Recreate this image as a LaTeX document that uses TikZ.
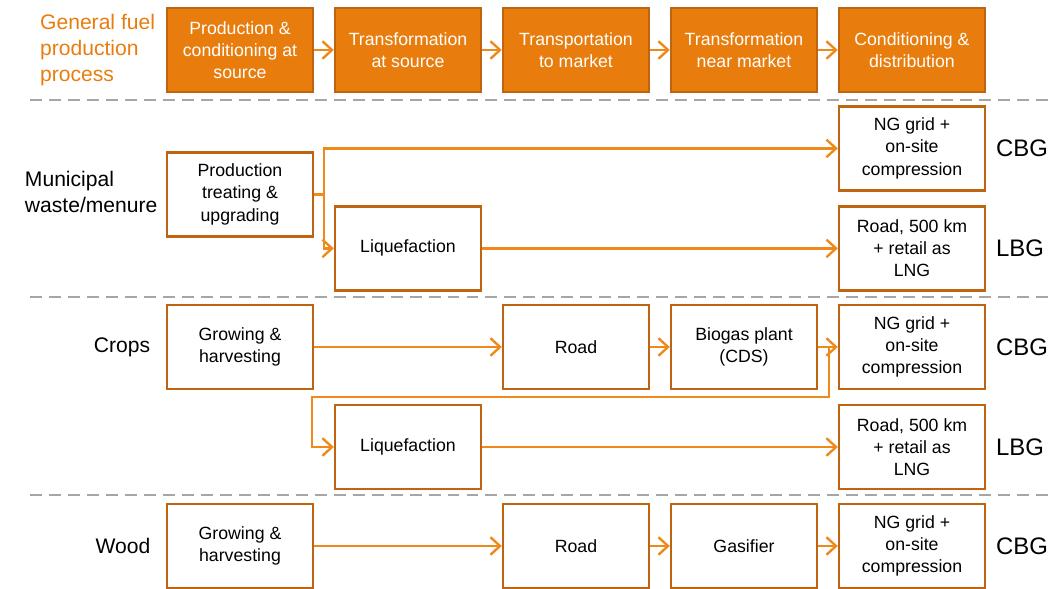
\documentclass[tikz,border=0pt]{standalone}
\usepackage{fontspec}
\setmainfont{Liberation Sans}
\usepackage{xcolor}
\usepackage{tikz}
\usetikzlibrary{arrows.meta,positioning,calc}

\definecolor{fuelorange}{HTML}{E87D0E}
\definecolor{boxline}{HTML}{BF6410}
\definecolor{flowline}{HTML}{EF8A1A}
\definecolor{sepgray}{HTML}{A6A6A6}

\begin{document}
\begin{tikzpicture}[every node/.style={font=\fontsize{12.6}{15.8}\selectfont},
    box/.style={draw=boxline, line width=1.7pt, minimum width=3.65cm, minimum height=2.1cm, align=center, inner sep=2pt},
    head/.style={box, fill=fuelorange, text=white},
    flow/.style={draw=flowline, line width=1.7pt, -{Straight Barb[length=2.4mm,width=4.4mm]}},
    sep/.style={draw=sepgray, line width=2pt, dash pattern=on 8.5pt off 5pt},
    rowlabel/.style={font=\fontsize{15}{18}\selectfont, align=left},
    gaslabel/.style={font=\fontsize{17}{20}\selectfont, anchor=west}]
    \useasboundingbox (0,0) rectangle (26.6,-14.725);

    % header row
    \node[text=fuelorange, font=\fontsize{15}{18.4}\selectfont, align=left, anchor=west] (general) at (0.88,-1.25) {General fuel\\production\\process};
    \node[head] (h1) at (6.0,-1.25) {Production \&\\conditioning at\\source};
    \node[head, right=0.49cm of h1] (h2) {Transformation\\at source};
    \node[head, right=0.49cm of h2] (h3) {Transportation\\to market};
    \node[head, right=0.49cm of h3] (h4) {Transformation\\near market};
    \node[head, right=0.49cm of h4] (h5) {Conditioning \&\\distribution};
    \draw[flow] (h1) -- (h2);
    \draw[flow] (h2) -- (h3);
    \draw[flow] (h3) -- (h4);
    \draw[flow] (h4) -- (h5);

    \draw[sep] (0.75,-2.5) -- (26.25,-2.5);
    \draw[sep] (0.75,-7.425) -- (26.25,-7.425);
    \draw[sep] (0.75,-12.375) -- (26.25,-12.375);

    % municipal waste
    \node[rowlabel, anchor=west] (muni) at (0.5,-4.8) {Municipal\\waste/menure};
    \node[box] (prod1) at (6.0,-4.86) {Production\\treating \&\\upgrading};
    \node[box] (ng1) at (22.8,-3.71) {NG grid +\\on-site\\compression};
    \node[box] (liq1) at (10.2,-6.21) {Liquefaction};
    \node[box] (road1) at (22.8,-6.21) {Road, 500 km\\+ retail as\\LNG};
    \node[gaslabel] (cbg1) at (24.78,-3.71) {CBG};
    \node[gaslabel] (lbg1) at (24.78,-6.21) {LBG};
    \coordinate (j1) at (8.1,-4.86);
    \draw[flowline, line width=1.7pt] (prod1.east) -- (j1);
    \draw[flow] (j1) |- (ng1.west);
    \draw[flow] (j1) |- (liq1.west);
    \draw[flow] (liq1) -- (road1);

    % crops
    \node[rowlabel, anchor=east] (crops) at (3.88,-8.675) {Crops};
    \node[box] (grow2) at (6.0,-8.675) {Growing \&\\harvesting};
    \node[box] (truck2) at (14.4,-8.675) {Road};
    \node[box] (bio2) at (18.6,-8.675) {Biogas plant\\(CDS)};
    \node[box] (ng2) at (22.8,-8.675) {NG grid +\\on-site\\compression};
    \node[box] (liq2) at (10.2,-11.175) {Liquefaction};
    \node[box] (road2) at (22.8,-11.175) {Road, 500 km\\+ retail as\\LNG};
    \node[gaslabel] (cbg2) at (24.78,-8.675) {CBG};
    \node[gaslabel] (lbg2) at (24.78,-11.175) {LBG};
    \draw[flow] (grow2) -- (truck2);
    \draw[flow] (truck2) -- (bio2);
    \draw[flow] (bio2) -- (ng2);
    \coordinate (j2) at (20.725,-8.675);
    \coordinate (k2) at (7.8,-9.925);
    \draw[flow] (j2) |- (k2) |- (liq2.west);
    \draw[flow] (liq2) -- (road2);

    % wood
    \node[rowlabel, anchor=east] (wood) at (3.88,-13.65) {Wood};
    \node[box] (grow3) at (6.0,-13.65) {Growing \&\\harvesting};
    \node[box] (truck3) at (14.4,-13.65) {Road};
    \node[box] (gas3) at (18.6,-13.65) {Gasifier};
    \node[box] (ng3) at (22.8,-13.65) {NG grid +\\on-site\\compression};
    \node[gaslabel] (cbg3) at (24.78,-13.65) {CBG};
    \draw[flow] (grow3) -- (truck3);
    \draw[flow] (truck3) -- (gas3);
    \draw[flow] (gas3) -- (ng3);
  \end{tikzpicture}
\end{document}
